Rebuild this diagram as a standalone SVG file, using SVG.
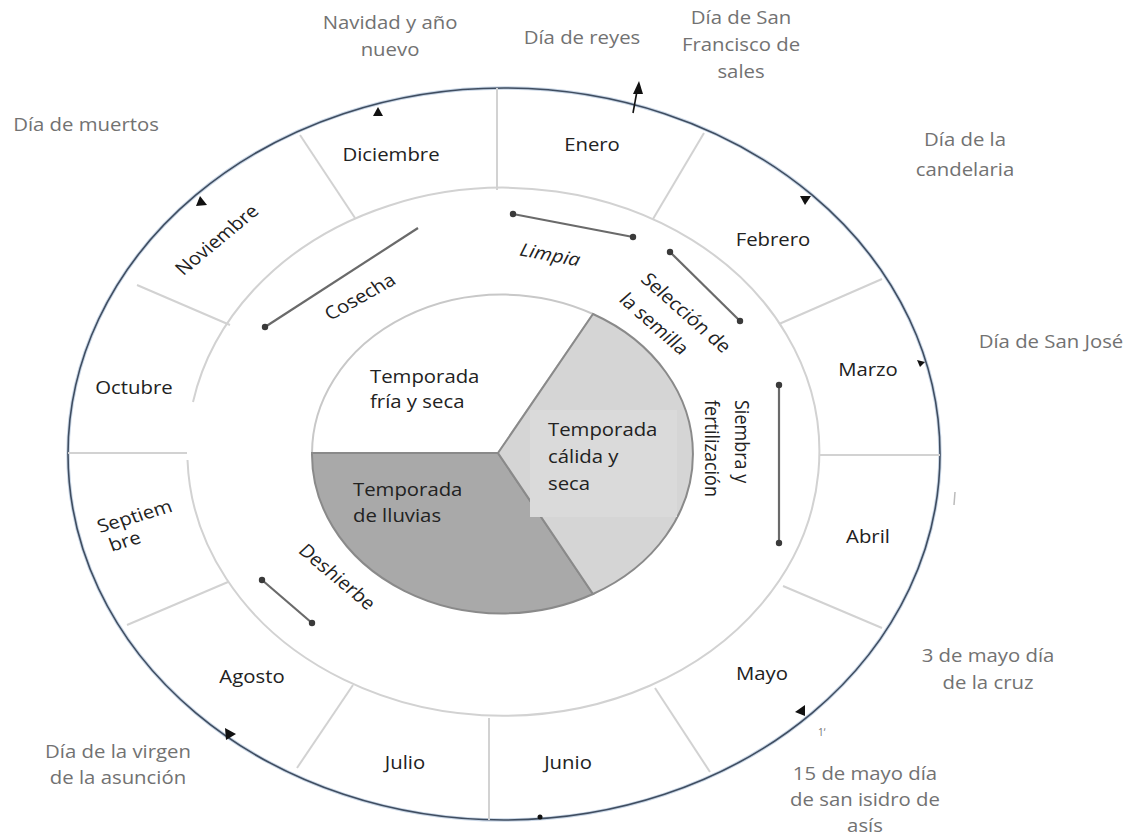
<svg xmlns="http://www.w3.org/2000/svg" width="1140" height="836" viewBox="0 0 1140 836">
<style>
.t{font-family:"Open Sans","Liberation Sans",sans-serif;font-size:18px;fill:#222}
.h{fill:#727272}
.it{font-style:italic}
.ring{fill:none;stroke:#d2d2d2;stroke-width:2}
.div{stroke:#d2d2d2;stroke-width:2}
.act{stroke:#6a6a6a;stroke-width:2.2}
.dot{fill:#3a3a3a}
.mk{fill:#111}
</style>
<rect x="0" y="0" width="1140" height="836" fill="#fff"/>
<g id="outer-ring">
<ellipse cx="504" cy="454" rx="436" ry="366" fill="none" stroke="#c9d6e6" stroke-width="3.5"/>
<ellipse cx="504" cy="454" rx="436" ry="366" fill="none" stroke="#3f4d60" stroke-width="1.6"/>
</g>
<g id="month-ring">
<path class="ring" d="M193,402 A316,264 0 1,1 187.5,460"/>
<line class="div" x1="497" y1="88" x2="497" y2="190"/>
<line class="div" x1="300" y1="135" x2="355" y2="218"/>
<line class="div" x1="137" y1="285" x2="230" y2="325"/>
<line class="div" x1="68" y1="453" x2="187" y2="453"/>
<line class="div" x1="127" y1="625" x2="228" y2="582"/>
<line class="div" x1="297" y1="768" x2="353" y2="685"/>
<line class="div" x1="489" y1="718" x2="489" y2="820"/>
<line class="div" x1="655" y1="688" x2="710" y2="772"/>
<line class="div" x1="783" y1="586" x2="882" y2="628"/>
<line class="div" x1="820" y1="455" x2="940" y2="455"/>
<line class="div" x1="779" y1="324" x2="882" y2="279"/>
<line class="div" x1="653" y1="219" x2="704" y2="133"/>
</g>
<g id="pie">
<path id="sector-fria" d="M498,453 L312,453 A190,159 0 0,1 593,314 Z" fill="#fff" stroke="#c8c8c8" stroke-width="2"/>
<path id="sector-lluvias" d="M498,453 L593,594 A190,159 0 0,1 312,453 Z" fill="#a9a9a9" stroke="#8a8a8a" stroke-width="2"/>
<path id="sector-calida" d="M498,453 L593,314 A190,159 0 0,1 593,594 Z" fill="#d5d5d5" stroke="#8a8a8a" stroke-width="2"/>
<rect x="530" y="410" width="147" height="107" fill="#dadada"/>
<text class="t" transform="translate(370,0) scale(1.13,1)"><tspan x="0" y="383">Temporada</tspan><tspan x="0" y="408">fría y seca</tspan></text>
<text class="t" transform="translate(548,0) scale(1.13,1)"><tspan x="0" y="436">Temporada</tspan><tspan x="0" y="463">cálida y</tspan><tspan x="0" y="490">seca</tspan></text>
<text class="t" transform="translate(353,0) scale(1.13,1)"><tspan x="0" y="496">Temporada</tspan><tspan x="0" y="522">de lluvias</tspan></text>
</g>
<g id="months">
<text class="t" text-anchor="middle" transform="translate(391,161) scale(1.13,1)">Diciembre</text>
<text class="t" text-anchor="middle" transform="translate(592,151) scale(1.13,1)">Enero</text>
<text class="t" text-anchor="middle" transform="translate(773,246) scale(1.13,1)">Febrero</text>
<text class="t" text-anchor="middle" transform="translate(868,376) scale(1.13,1)">Marzo</text>
<text class="t" text-anchor="middle" transform="translate(868,543) scale(1.13,1)">Abril</text>
<text class="t" text-anchor="middle" transform="translate(762,680) scale(1.13,1)">Mayo</text>
<text class="t" text-anchor="middle" transform="translate(568,769) scale(1.13,1)">Junio</text>
<text class="t" text-anchor="middle" transform="translate(405,769) scale(1.13,1)">Julio</text>
<text class="t" text-anchor="middle" transform="translate(252,683) scale(1.13,1)">Agosto</text>
<text class="t" transform="translate(100,533) scale(1.13,1) rotate(-18.4)"><tspan x="0" y="0">Septiem</tspan><tspan x="4" y="21">bre</tspan></text>
<text class="t" text-anchor="middle" transform="translate(134,394) scale(1.13,1)">Octubre</text>
<text class="t" text-anchor="middle" transform="translate(217,240) scale(1.13,1) rotate(-43)" y="6">Noviembre</text>
</g>
<g id="activities">
<g id="limpia">
<line class="act" x1="513" y1="214" x2="633" y2="237"/>
<circle class="dot" cx="513" cy="214" r="3.2"/><circle class="dot" cx="633" cy="237" r="3.2"/>
<text class="t it" text-anchor="middle" transform="translate(550,255) scale(1.13,1) rotate(11.9)" y="6">Limpia</text>
</g>
<g id="seleccion">
<line class="act" x1="670" y1="252" x2="740" y2="321"/>
<circle class="dot" cx="670" cy="252" r="3.2"/><circle class="dot" cx="740" cy="321" r="3.2"/>
<text class="t" text-anchor="middle" transform="translate(686,313) scale(1.13,1) rotate(45)" y="6">Selección de</text>
<text class="t" text-anchor="middle" transform="translate(654,324) scale(1.13,1) rotate(45)" y="6">la semilla</text>
</g>
<g id="siembra">
<line class="act" x1="779" y1="385" x2="779" y2="543"/>
<circle class="dot" cx="779" cy="385" r="3.2"/><circle class="dot" cx="779" cy="543" r="3.2"/>
<text class="t" transform="translate(735,400) scale(1.13,1) rotate(90)">Siembra y</text>
<text class="t" transform="translate(705,400) scale(1.13,1) rotate(90)">fertilización</text>
</g>
<g id="deshierbe">
<line class="act" x1="262" y1="580" x2="312" y2="623"/>
<circle class="dot" cx="262" cy="580" r="3.2"/><circle class="dot" cx="312" cy="623" r="3.2"/>
<text class="t" text-anchor="middle" transform="translate(337,577) scale(1.13,1) rotate(43.5)" y="6">Deshierbe</text>
</g>
<g id="cosecha">
<line class="act" x1="265" y1="327" x2="418" y2="228"/>
<circle class="dot" cx="265" cy="327" r="3.2"/>
<text class="t" text-anchor="middle" transform="translate(360,297) scale(1.13,1) rotate(-32.7)" y="6">Cosecha</text>
</g>
</g>
<g id="connectors">
<path class="mk" d="M373,116 L378,107 L383,116 Z"/>
<line x1="633" y1="113" x2="637" y2="91" stroke="#111" stroke-width="1.6"/>
<path class="mk" d="M639,81 L633,94 L643,94 Z"/>
<path class="mk" d="M800,196 L811,196 L805,205 Z"/>
<path class="mk" d="M917,360 L925,362 L920,367 Z"/>
<path class="mk" d="M196,206 L200,196 L207,205 Z"/>
<path class="mk" d="M225,728 L236,734 L226,740 Z"/>
<path class="mk" d="M795,712 L805,705 L805,716 Z"/>
<circle class="mk" cx="540" cy="817" r="2.5"/>
<line x1="955" y1="492" x2="954" y2="505" stroke="#bbb" stroke-width="1.5"/>
</g>
<g id="holidays">
<text class="t h" text-anchor="middle" transform="translate(390,0) scale(1.13,1)"><tspan x="0" y="29">Navidad y año</tspan><tspan x="0" y="56">nuevo</tspan></text>
<text class="t h" text-anchor="middle" transform="translate(582,44) scale(1.13,1)">Día de reyes</text>
<text class="t h" text-anchor="middle" transform="translate(741,0) scale(1.13,1)"><tspan x="0" y="24">Día de San</tspan><tspan x="0" y="51">Francisco de</tspan><tspan x="0" y="78">sales</tspan></text>
<text class="t h" text-anchor="middle" transform="translate(86,131) scale(1.13,1)">Día de muertos</text>
<text class="t h" text-anchor="middle" transform="translate(965,0) scale(1.13,1)"><tspan x="0" y="146">Día de la</tspan><tspan x="0" y="176">candelaria</tspan></text>
<text class="t h" text-anchor="middle" transform="translate(1051,348) scale(1.13,1)">Día de San José</text>
<text class="t h" text-anchor="middle" transform="translate(988,0) scale(1.13,1)"><tspan x="0" y="662">3 de mayo día</tspan><tspan x="0" y="689">de la cruz</tspan></text>
<text class="t h" text-anchor="middle" transform="translate(865,0) scale(1.13,1)"><tspan x="0" y="780">15 de mayo día</tspan><tspan x="0" y="806">de san isidro de</tspan><tspan x="0" y="832">asís</tspan></text>
<text class="t h" text-anchor="middle" transform="translate(118,0) scale(1.13,1)"><tspan x="0" y="758">Día de la virgen</tspan><tspan x="0" y="784">de la asunción</tspan></text>
<text class="t h" style="font-size:10px" transform="translate(818,736)">1ʼ</text>
</g>
</svg>
